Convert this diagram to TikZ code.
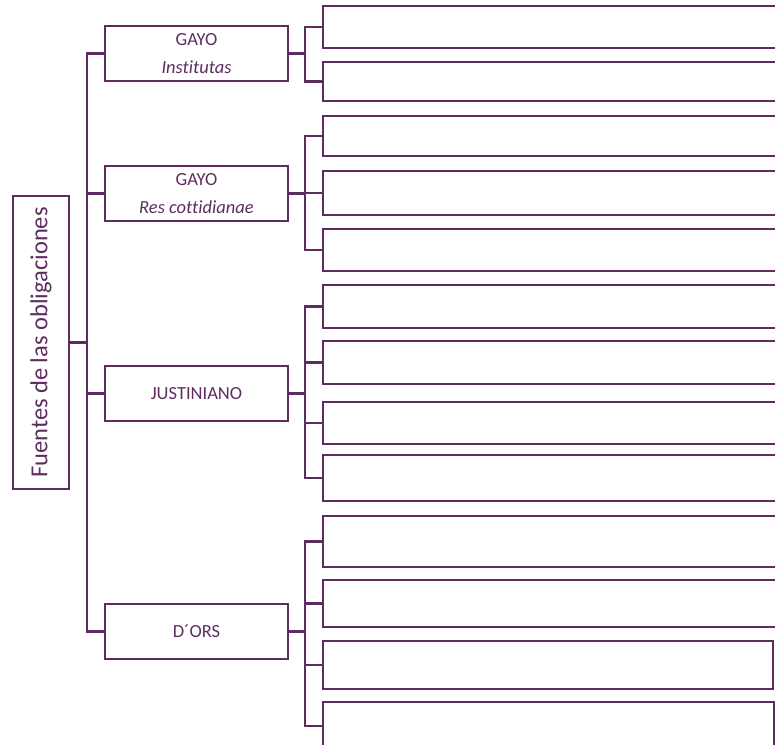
\documentclass[tikz,border=0pt]{standalone}
\usepackage{fontspec}
\setmainfont{Carlito}[Ligatures=NoCommon]
\usetikzlibrary{calc}
\definecolor{plum}{HTML}{5E2C60}

\begin{document}
\begin{tikzpicture}[x=1pt,y=-1pt,
  box/.style={draw=plum, line width=2.3pt, outer sep=0pt, inner sep=0pt, text=plum},
  src/.style={box, anchor=north west, minimum width=183, minimum height=55, align=center, font=\fontsize{18.5}{22}\selectfont},
  leaf/.style={box, anchor=north west},
  link/.style={draw=plum, line width=2.3pt},
  feed/.style={link, line width=2.8pt}]
  \clip (0,0) rectangle (775,744);
  % root
  \node[box, rotate=90, minimum width=293, minimum height=56, font=\fontsize{24.5}{28}\selectfont] (root) at (41,342.5) {Fuentes de las obligaciones};
  % sources
  \node[src] (gi) at (105,26) {GAYO\\[6pt]\textit{Institutas}};
  \node[src] (grc) at (105,166) {GAYO\\[6pt]\textit{Res cottidianae}};
  \node[src] (just) at (105,366) {JUSTINIANO};
  \node[src] (dors) at (105,604) {D´ORS};
  % empty boxes
  \foreach \name/\top/\bot/\right in {g1a/6/48/780, g1b/62/101/780,
      g2a/116/156/780, g2b/171/215/780, g2c/229/271/780,
      g3a/285/328/780, g3b/341/384/780, g3c/402/444/780, g3d/455/501/780,
      g4a/516/567/780, g4b/580/627/780, g4c/641/689/773, g4d/702/750/774}{
    \node[leaf, minimum width={\right-323}, minimum height={\bot-\top}] (\name) at (323,\top) {};
  }
  \coordinate (trunk) at (87,0);
  \coordinate (fork) at (305,0);
  % trunk
  \draw[link] (root.south) -- (root.south -| trunk);
  \draw[link] (gi.west) -- (gi.west -| trunk) |- (dors.west);
  \draw[link] (grc.west) -- (grc.west -| trunk);
  \draw[link] (just.west) -- (just.west -| trunk);
  % brackets
  \draw[feed] (gi.east) -- (gi.east -| fork);
  \draw[link] (g1a.west) -- (g1a.west -| fork) |- (g1b.west);
  \draw[feed] (grc.east) -- (grc.east -| fork);
  \draw[link] (g2a.west) -- (g2a.west -| fork) |- (g2c.west);
  \draw[link] (g2b.west) -- (g2b.west -| fork);
  \draw[feed] (just.east) -- (just.east -| fork);
  \draw[link] (g3a.west) -- (g3a.west -| fork) |- (g3d.west);
  \draw[link] (g3b.west) -- (g3b.west -| fork);
  \draw[link] (g3c.west) -- (g3c.west -| fork);
  \draw[feed] (dors.east) -- (dors.east -| fork);
  \draw[link] (g4a.west) -- (g4a.west -| fork) |- (g4d.west);
  \draw[link] (g4b.west) -- (g4b.west -| fork);
  \draw[link] (g4c.west) -- (g4c.west -| fork);
\end{tikzpicture}
\end{document}
